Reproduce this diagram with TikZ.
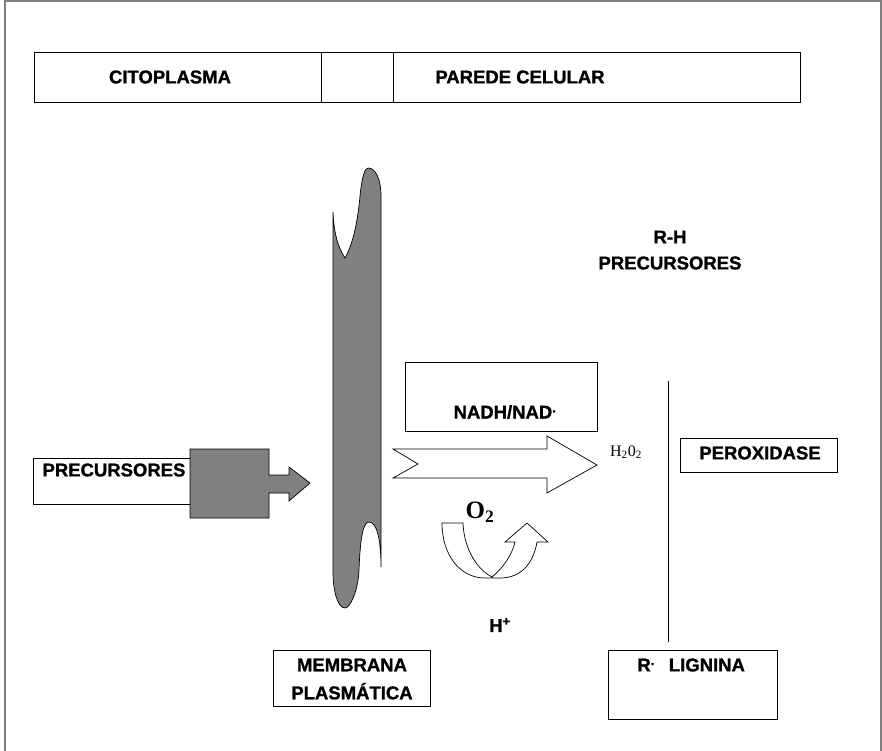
\documentclass[tikz,border=0pt]{standalone}
\usepackage{fontspec}
\setmainfont{Liberation Serif}
\setsansfont{Liberation Sans}[BoldFeatures={FakeBold=1.2}]
\usepackage{tikz}
\usepackage{xcolor}
\usetikzlibrary{positioning, calc}

\begin{document}
\begin{tikzpicture}[
    x=1pt, y=-1pt,              % pixel-like units, y pointing down
    line width=0.8pt,
    boldlab/.style={font=\sffamily\bfseries\fontsize{18.5}{28}\selectfont, inner sep=0pt, align=center},
    seriflab/.style={font=\rmfamily\fontsize{16}{18}\selectfont, inner sep=0pt},
    greyshape/.style={draw, fill=gray, line width=0.7pt},
    hollowshape/.style={draw, fill=white, line width=0.7pt},
]
\useasboundingbox (0,0) rectangle (882,751);

% -------------------------------------------------
% Outer frame (open at the bottom)
% -------------------------------------------------
\draw[gray, line width=1.5pt] (5,751) -- (5,1) -- (881,1) -- (881,751);

% -------------------------------------------------
% Header bar
% -------------------------------------------------
\draw (34,52) rectangle (800,102);
\draw (321,52) -- (321,102);
\draw (393,52) -- (393,102);
\node[boldlab] (cito)   at (170,77) {CITOPLASMA};
\node[boldlab] (parede) at (520,77) {PAREDE CELULAR};

% -------------------------------------------------
% Precursors entering through the membrane
% -------------------------------------------------
\draw (215,458) -- (33,458) -- (33,504) -- (215,504);
\node[boldlab] (precin) at (114,470) {PRECURSORES};

\draw[greyshape] (190,449) -- (269,449) -- (269,475) -- (289,475) -- (289,467)
    -- (310,483) -- (289,501) -- (289,493) -- (269,493) -- (269,518)
    -- (190,518) -- cycle;

% plasma membrane (wavy ribbon)
\draw[greyshape] (333,212) .. controls (334,238) and (340,250) .. (345,258)
    .. controls (354,242) and (358,218) .. (360,196)
    .. controls (362,176) and (365,168) .. (368,168)
    .. controls (376,168) and (381,180) .. (381,196)
    -- (381,567)
    .. controls (381,540) and (377,522) .. (369,522)
    .. controls (362,522) and (360,545) .. (359,570)
    .. controls (358,592) and (350,608) .. (345,608)
    .. controls (338,608) and (333,592) .. (333,572)
    -- cycle;

\node[draw, minimum width=157pt, minimum height=56pt, inner sep=0pt] (membox) at (351.5,678) {};
\node[boldlab] (mem) at (352,679) {MEMBRANA\\PLASMÁTICA};

% -------------------------------------------------
% Electron transport and oxygen reduction
% -------------------------------------------------
\node[draw, minimum width=192pt, minimum height=69pt, inner sep=0pt] (nadhbox) at (501,396.5) {};
\node[boldlab] (nadh) at (505,412) {NADH/NAD\textsuperscript{.}};

\draw[hollowshape] (393,449) -- (547,449) -- (547,436) -- (597,465)
    -- (547,493) -- (547,478) -- (393,478) -- (418,464) -- cycle;

\node[seriflab] (hperox) at (626,452) {H\textsubscript{2}0\textsubscript{2}};

\node[font=\rmfamily\bfseries\fontsize{25}{27}\selectfont, inner sep=0pt] (oxig) at (480,512) {O\textsubscript{2}};

% U-turn arrow
\draw[hollowshape] (442,523) -- (463,523)
    .. controls (464,550) and (478,570) .. (492,577)
    .. controls (503,568) and (512,555) .. (515,542)
    -- (505,542) -- (527,523) -- (548,542) -- (537,542)
    .. controls (533,565) and (520,578) .. (500,578)
    -- (485,578)
    .. controls (460,578) and (442,555) .. (442,523) -- cycle;

\node[boldlab] (hplus) at (500,625) {H\textsuperscript{+}};

% -------------------------------------------------
% Cell wall side
% -------------------------------------------------
\node[boldlab] (rh)    at (670,237) {R-H};
\node[boldlab] (precw) at (670,263) {PRECURSORES};

\draw (668,381) -- (668,642);

\node[draw, minimum width=157pt, minimum height=34pt, inner sep=0pt] (peroxbox) at (758.5,455) {};
\node[boldlab] (perox) at (760,453) {PEROXIDASE};

\node[draw, minimum width=169pt, minimum height=69pt, inner sep=0pt] (ligbox) at (692.5,684.5) {};
\node[boldlab, anchor=west] (lig) at (637,665) {R\textsuperscript{.}\hspace{14pt}LIGNINA};

\end{tikzpicture}
\end{document}
